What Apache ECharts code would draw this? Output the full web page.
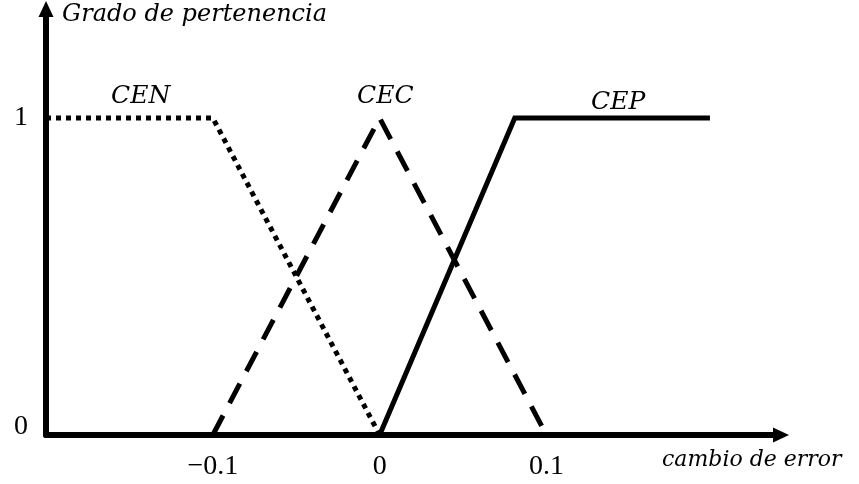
<!DOCTYPE html>
<html>
<head>
<meta charset="utf-8">
<script src="https://cdn.jsdelivr.net/npm/echarts@6/dist/echarts.min.js"></script>
<style>
  html, body { margin: 0; padding: 0; background: #fff; }
  #chart { width: 859px; height: 484px; }
</style>
</head>
<body>
<div id="chart"></div>
<script>
// funciones de pertenencia (x, grado)
const cen = [[-0.2, 1], [-0.1, 1], [0, 0]];
const cec = [[-0.1, 0], [0, 1], [0.1, 0]];
const cep = [[0, 0], [0.081, 1], [0.198, 1]];

const xTicks = [-0.1, 0, 0.1];
const yTicks = [0, 1];

const serifMath = '"DejaVu Serif", "Liberation Serif", serif';
const numFont = '"Liberation Serif", serif';

const chart = echarts.init(document.getElementById('chart'));

const lineSeries = (name, data, dash) => ({
  name,
  type: 'line',
  data,
  symbol: 'none',
  silent: true,
  lineStyle: { color: '#000', width: 5, type: dash, cap: 'butt', join: 'miter' },
});

chart.setOption({
  animation: false,
  grid: { left: 46, right: 84, top: 15, bottom: 49 },
  xAxis: {
    type: 'value',
    min: -0.2,
    max: 0.237,
    splitLine: { show: false },
    axisTick: { show: false },
    axisLine: {
      onZero: false,
      symbol: ['none', 'triangle'],
      symbolSize: [15, 16],
      symbolOffset: [0, 6],
      lineStyle: { color: '#000', width: 6 },
    },
    axisLabel: {
      customValues: xTicks,
      margin: 18,
      color: '#000',
      fontFamily: numFont,
      fontSize: 28,
      formatter: (v) => (v < 0 ? '\u2212' + Math.abs(v) : String(v)),
    },
  },
  yAxis: {
    type: 'value',
    min: 0,
    max: 1.325,
    splitLine: { show: false },
    axisTick: { show: false },
    axisLine: {
      onZero: false,
      symbol: ['none', 'triangle'],
      symbolSize: [15, 16],
      symbolOffset: [0, 6],
      lineStyle: { color: '#000', width: 6 },
    },
    axisLabel: {
      customValues: yTicks,
      margin: 18,
      color: '#000',
      fontFamily: numFont,
      fontSize: 28,
      formatter: (v) => (v === 0 ? '{lo|0}' : String(v)),
      rich: { lo: { fontFamily: numFont, fontSize: 28, padding: [0, 0, 16, 0] } },
    },
  },
  graphic: [
    { type: 'text', left: 62, top: 3, style: { text: 'Grado de pertenencia', font: 'italic 24px ' + serifMath, fill: '#000' } },
    { type: 'text', left: 662, top: 449, style: { text: 'cambio de error', font: 'italic 22px ' + serifMath, fill: '#000' } },
    { type: 'text', left: 111, top: 84, style: { text: 'CEN', font: 'italic 25px ' + serifMath, fill: '#000' } },
    { type: 'text', left: 357, top: 84, style: { text: 'CEC', font: 'italic 25px ' + serifMath, fill: '#000' } },
    { type: 'text', left: 591, top: 90, style: { text: 'CEP', font: 'italic 25px ' + serifMath, fill: '#000' } },
  ],
  series: [
    lineSeries('CEN', cen, [5, 5]),
    lineSeries('CEC', cec, [22, 14]),
    lineSeries('CEP', cep, 'solid'),
  ],
});
</script>
</body>
</html>
